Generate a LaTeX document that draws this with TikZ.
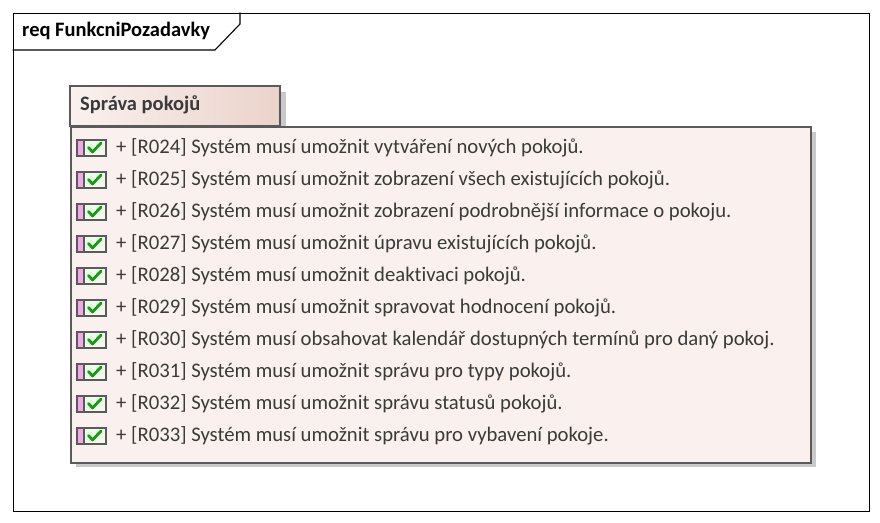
\documentclass[tikz,border=0pt]{standalone}
\usepackage{fontspec}
\setmainfont[Ligatures=NoCommon]{Carlito}
\definecolor{boxfill}{HTML}{FAF1EE}
\definecolor{gradR}{HTML}{EBD3CB}
\definecolor{edge}{HTML}{5A5A5A}
\definecolor{shadow}{HTML}{C9C9C9}
\definecolor{pinkbar}{HTML}{F0A8E8}
\definecolor{chkfill}{HTML}{EEFBE8}
\definecolor{chkgreen}{HTML}{159A15}
\definecolor{txt}{HTML}{3A3A3A}
\tikzset{
  rowtext/.style={anchor=west, inner sep=0pt, text=txt, font=\fontsize{20.7}{22}\selectfont},
  icon/.pic={
    \fill[pinkbar] (0,-8) rectangle (7,8);
    \fill[chkfill] (7,-8) rectangle (29,8);
    \draw[edge, line width=1.3pt] (0,-8) rectangle (29,8);
    \draw[edge, line width=1.1pt] (7,-8) -- (7,8);
    \draw[chkgreen, line width=2.8pt, line cap=round, line join=round] (11.5,-0.5) -- (15.5,4) -- (24,-5);
  }
}
\begin{document}
\begin{tikzpicture}[x=1pt,y=-1pt]
\useasboundingbox (0,0) rectangle (880,522);
\fill[white] (0,0) rectangle (880,522);
% outer frame
\node[draw=black, line width=1.3pt, minimum width=856pt, minimum height=498pt, anchor=north west, inner sep=0pt] (frame) at (12.5,12.5) {};
\draw[black, line width=1.1pt] (12.5,50) -- (215,50) -- (240,24) -- (240,12.5);
\node[anchor=west, inner sep=0pt, font=\bfseries\fontsize{20.5}{22}\selectfont, text=black] (title) at (22,31) {req FunkcniPozadavky};
% shadows
\fill[shadow] (76,92) rectangle (286,132);
\fill[shadow] (76,132) rectangle (816,467);
% header box
\shade[left color=boxfill, right color=gradR] (70,86) rectangle (280,126);
\draw[edge, line width=1.6pt] (70,86) rectangle (280,126);
\node[anchor=west, inner sep=0pt, font=\bfseries\fontsize{20.5}{22}\selectfont, text=txt] (hdr) at (80,105) {Správa pokojů};
% main box
\node[draw=edge, fill=boxfill, line width=1.6pt, minimum width=740pt, minimum height=336pt, anchor=north west, inner sep=0pt] (main) at (70,126) {};
% rows
\foreach \i/\t in {0/{+ [R024] Systém musí umožnit vytváření nových pokojů.},
  1/{+ [R025] Systém musí umožnit zobrazení všech existujících pokojů.},
  2/{+ [R026] Systém musí umožnit zobrazení podrobnější informace o pokoju.},
  3/{+ [R027] Systém musí umožnit úpravu existujících pokojů.},
  4/{+ [R028] Systém musí umožnit deaktivaci pokojů.},
  5/{+ [R029] Systém musí umožnit spravovat hodnocení pokojů.},
  6/{+ [R030] Systém musí obsahovat kalendář dostupných termínů pro daný pokoj.},
  7/{+ [R031] Systém musí umožnit správu pro typy pokojů.},
  8/{+ [R032] Systém musí umožnit správu statusů pokojů.},
  9/{+ [R033] Systém musí umožnit správu pro vybavení pokoje.}}{
  \pic at (77,{148+32*\i}) {icon};
  \node[rowtext] (r\i) at (116,{148+32*\i}) {\t};
}
\end{tikzpicture}
\end{document}
